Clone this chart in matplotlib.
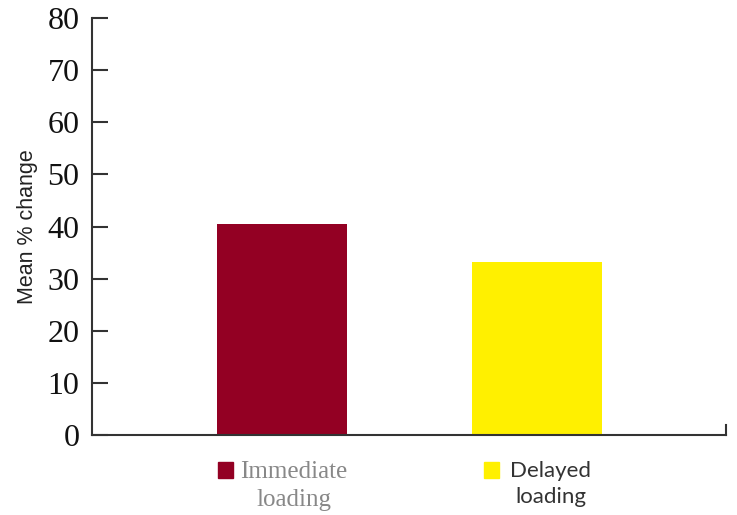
import numpy as np
import matplotlib.pyplot as plt
from matplotlib.patches import Rectangle

# Data
groups = ["Immediate\nloading", "Delayed\nloading"]
values = [40.5, 33.2]
colors = ["#930023", "#FFF000"]
yticks = [0, 10, 20, 30, 40, 50, 60, 70, 80]

W, H = 737, 515
fig = plt.figure(figsize=(W / 100, H / 100), dpi=100)
ax = fig.add_axes([0.1248, 0.1553, 0.860, 0.8097])

x = np.arange(len(values))
bars = ax.bar(x, values, width=0.51, color=colors)

ax.set_xlim(-0.745, 1.74)
ax.set_ylim(0, 80)
ax.set_yticks(yticks)
ax.set_xticks([])

axis_col = "#333333"
ax.spines["top"].set_visible(False)
for s in ["left", "bottom", "right"]:
    ax.spines[s].set_color(axis_col)
    ax.spines[s].set_linewidth(1.5)
ax.spines["right"].set_bounds(0, 2)

ax.tick_params(axis="y", direction="in", length=11.5, width=1.5, color=axis_col,
               pad=9, labelsize=23, labelcolor="#111111")
for lab in ax.get_yticklabels():
    lab.set_fontfamily("Liberation Serif")

ax.set_ylabel("Mean % change", fontsize=15.5, fontfamily="Liberation Sans", color="#222222")
ax.yaxis.set_label_coords(-0.085, 0.5)

# legend drawn by hand: square + centred two-line label
sq_x = [218, 484]
txt_x = [294, 551]
txt_style = [dict(fontfamily="Liberation Serif", color="#888888", fontsize=18, linespacing=1.35),
             dict(fontfamily="Lato", color="#333333", fontsize=16, linespacing=1.4)]
for c, lbl, sx, tx, st in zip(colors, groups, sq_x, txt_x, txt_style):
    fig.patches.append(Rectangle((sx / W, 1 - 478 / H), 15 / W, 16 / H,
                                 transform=fig.transFigure, color=c))
    fig.text(tx / W, 1 - 461 / H, lbl, ha="center", va="top",
             multialignment="center", **st)

fig.savefig("out.png", dpi=100)
